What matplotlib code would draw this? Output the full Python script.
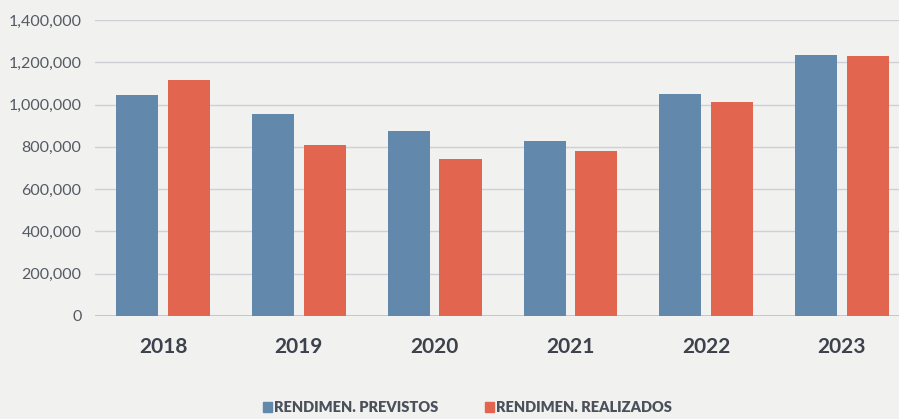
#!/usr/bin/env python3
import matplotlib
matplotlib.use("Agg")
import matplotlib.pyplot as plt
import numpy as np
from matplotlib.patches import Patch
from matplotlib.ticker import FuncFormatter

years = ["2018", "2019", "2020", "2021", "2022", "2023"]
previstos = [1045000, 957000, 875000, 826000, 1050000, 1233000]
realizados = [1118000, 810000, 742000, 780000, 1011000, 1228000]
y_ticks = [0, 200000, 400000, 600000, 800000, 1000000, 1200000, 1400000]
series_names = ["RENDIMEN. PREVISTOS", "RENDIMEN. REALIZADOS"]

BLUE = "#6288ab"
RED = "#e2654f"
BG = "#f1f1f0"
TEXT = "#4b505a"

plt.rcParams["font.family"] = ["Lato", "DejaVu Sans"]

fig = plt.figure(figsize=(8.99, 4.19), dpi=100, facecolor=BG)
ax = fig.add_axes([0.106, 0.246, 0.894, 0.706], facecolor=BG)

x = np.arange(len(years))
width = 0.31
offset = 0.19
ax.bar(x - offset, previstos, width, color=BLUE, zorder=3)
ax.bar(x + offset, realizados, width, color=RED, zorder=3)

ax.set_xlim(-0.5, 5.42)
ax.set_ylim(0, 1400000)
ax.set_yticks(y_ticks)
ax.yaxis.set_major_formatter(FuncFormatter(lambda v, _: f"{int(v):,}"))
ax.grid(axis="y", color="#cfcfd8", linewidth=1.0, zorder=0)
ax.axhline(0, color="#bfc0c8", linewidth=1.2, zorder=2)

for side in ("top", "right", "left", "bottom"):
    ax.spines[side].set_visible(False)
ax.tick_params(axis="both", length=0)
ax.tick_params(axis="y", labelsize=11.5, labelcolor="#555a62", pad=10)
ax.set_xticks(x)
ax.set_xticklabels(years, fontsize=15, fontweight="bold", color="#3c414b")
ax.tick_params(axis="x", pad=15)

handles = [Patch(color=BLUE), Patch(color=RED)]
fig.legend(handles, series_names, loc="lower center", bbox_to_anchor=(0.52, -0.02),
           ncol=2, frameon=False, handlelength=0.6, handleheight=0.6,
           handletextpad=0.15, columnspacing=3.2,
           prop={"size": 10.5, "weight": "heavy"}, labelcolor=TEXT)

fig.savefig("out.png", dpi=100, facecolor=BG)
plt.close(fig)
